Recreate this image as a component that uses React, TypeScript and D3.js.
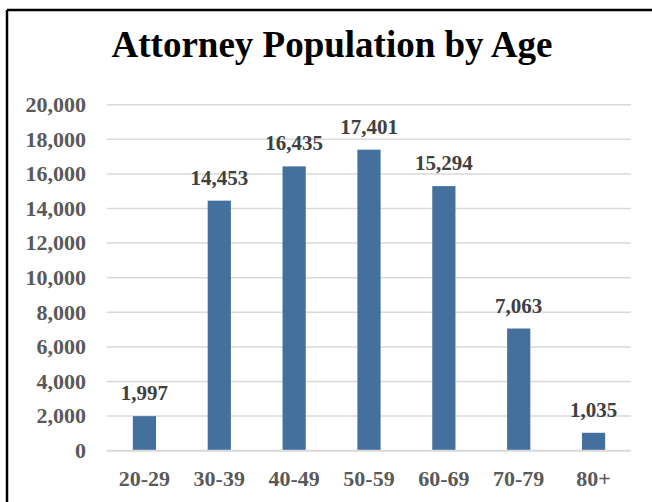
import React from "react";
import * as d3 from "d3";

const categories = ["20-29", "30-39", "40-49", "50-59", "60-69", "70-79", "80+"];
const values = [1997, 14453, 16435, 17401, 15294, 7063, 1035];
const yTicks = [0, 2000, 4000, 6000, 8000, 10000, 12000, 14000, 16000, 18000, 20000];
const title = "Attorney Population by Age";

export default function App() {
  const W = 652, H = 502;
  const left = 107, right = 631, top = 104.7, bottom = 450.7;
  const x = d3.scaleBand<string>().domain(categories).range([left, right]).paddingInner(0.69).paddingOuter(0.345);
  const y = d3.scaleLinear().domain([0, 20000]).range([bottom, top]);
  const fmt = d3.format(",");
  const font = "'Liberation Serif', 'Times New Roman', serif";
  return (
    <svg width={W} height={H} style={{ position: "absolute", left: 0, top: 0 }}>
      <rect x={0} y={0} width={W} height={H} fill="#fff" />
      <line x1={7} x2={W} y1={10} y2={10} stroke="#000" strokeWidth={2.5} />
      <line x1={7} x2={7} y1={10} y2={H} stroke="#000" strokeWidth={2.5} />
      <text x={332} y={57} textAnchor="middle" fontFamily={font} fontWeight="bold" fontSize={37} fill="#000">{title}</text>
      {yTicks.map((t) => (
        <g key={t}>
          {t !== 0 && <line x1={left} x2={right} y1={y(t)} y2={y(t)} stroke="#d9d9d9" strokeWidth={1.5} />}
          <text x={86} y={y(t)} dy="0.33em" textAnchor="end" fontFamily={font} fontWeight="bold" fontSize={22} fill="#595959">{fmt(t)}</text>
        </g>
      ))}
      {categories.map((c, i) => (
        <g key={c}>
          <rect x={x(c)!} y={y(values[i])} width={x.bandwidth()} height={bottom - y(values[i])} fill="#44709d" />
          <text x={x(c)! + x.bandwidth() / 2} y={y(values[i]) - 16} textAnchor="middle" fontFamily={font} fontWeight="bold" fontSize={21} fill="#404040">{fmt(values[i])}</text>
          <text x={x(c)! + x.bandwidth() / 2} y={486} textAnchor="middle" fontFamily={font} fontWeight="bold" fontSize={22} fill="#595959">{c}</text>
        </g>
      ))}
      <line x1={left} x2={right} y1={bottom} y2={bottom} stroke="#d9d9d9" strokeWidth={2} />
    </svg>
  );
}
